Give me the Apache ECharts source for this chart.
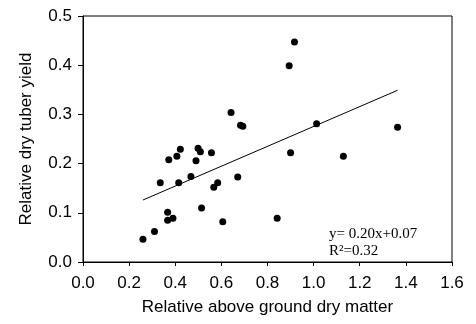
<!DOCTYPE html>
<html>
<head>
<meta charset="utf-8">
<script src="https://cdn.jsdelivr.net/npm/echarts@6/dist/echarts.min.js"></script>
<style>html,body{margin:0;padding:0;background:#fff;}#c{width:476px;height:324px;}</style>
</head>
<body>
<div id="c"></div>
<script>
const xValues = [0.26,0.31,0.335,0.372,0.407,0.422,0.367,0.367,0.39,0.415,0.468,0.49,0.499,0.509,0.514,0.557,0.567,0.584,0.606,0.642,0.671,0.683,0.693,0.842,0.894,0.9,0.917,1.013,1.129,1.364];
const yValues = [0.046,0.062,0.161,0.208,0.215,0.229,0.101,0.085,0.089,0.161,0.174,0.206,0.231,0.224,0.110,0.222,0.152,0.161,0.082,0.304,0.173,0.278,0.276,0.089,0.399,0.222,0.447,0.281,0.215,0.274];
const trendX = [0.26, 1.364];
const trendY = [0.126, 0.349];
const xTicks = [0.0,0.2,0.4,0.6,0.8,1.0,1.2,1.4,1.6];
const yTicks = [0.0,0.1,0.2,0.3,0.4,0.5];
const eqText = 'y= 0.20x+0.07';
const r2Text = 'R²=0.32';

const chart = echarts.init(document.getElementById('c'), null, {renderer:'canvas'});
const font = 'Liberation Sans, Arial, sans-serif';
chart.setOption({
  animation:false,
  backgroundColor:'#fff',
  grid:{left:83,right:24,top:16,bottom:62,show:true,borderColor:'#000',borderWidth:1,backgroundColor:'transparent'},
  xAxis:{type:'value',min:xTicks[0],max:xTicks[xTicks.length-1],interval:0.2,
    name:'Relative above ground dry matter',nameLocation:'middle',nameGap:37,
    nameTextStyle:{fontFamily:font,fontSize:17,color:'#000'},
    axisLine:{lineStyle:{color:'#000',width:1}},
    axisTick:{show:true,inside:false,length:4,lineStyle:{color:'#000'}},
    axisLabel:{fontFamily:font,fontSize:17,color:'#000',margin:13,formatter:v=>v.toFixed(1)},
    splitLine:{show:false}},
  yAxis:{type:'value',min:yTicks[0],max:yTicks[yTicks.length-1],interval:0.1,
    name:'Relative dry tuber yield',nameLocation:'middle',nameGap:48,
    nameTextStyle:{fontFamily:font,fontSize:17,color:'#000'},
    axisLine:{show:true,lineStyle:{color:'#000',width:1}},
    axisTick:{show:true,inside:false,length:5,lineStyle:{color:'#000'}},
    axisLabel:{fontFamily:font,fontSize:17,color:'#000',margin:11,formatter:v=>v.toFixed(1)},
    splitLine:{show:false}},
  series:[
    {type:'scatter',data:xValues.map((x,i)=>[x,yValues[i]]),symbol:'circle',symbolSize:7,
      itemStyle:{color:'#000',opacity:1},z:3},
    {type:'line',data:trendX.map((x,i)=>[x,trendY[i]]),showSymbol:false,symbol:'none',
      lineStyle:{color:'#000',width:1},z:2}
  ],
  graphic:[
    {type:'text',left:329,top:227,style:{text:eqText,font:'15px "Liberation Serif", "Times New Roman", serif',fill:'#000'}},
    {type:'text',left:329,top:244,style:{text:r2Text,font:'15px "Liberation Serif", "Times New Roman", serif',fill:'#000'}}
  ]
});
</script>
</body>
</html>
